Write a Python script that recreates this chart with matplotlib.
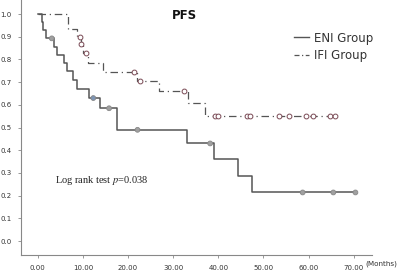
import matplotlib
matplotlib.use("Agg")
import matplotlib.pyplot as plt
from matplotlib.lines import Line2D

# ENI group (solid KM curve)
eni_t = [0, 0.9, 1.25, 1.8, 3.5, 4.35, 5.7, 6.4, 7.9, 8.6, 11.4, 13.7, 17.5, 33.0, 39.1, 44.3, 47.4]
eni_s = [1.0, 0.966, 0.93, 0.893, 0.856, 0.82, 0.785, 0.75, 0.71, 0.67, 0.63, 0.585, 0.49, 0.43, 0.36, 0.286, 0.214]
eni_end = 70.4
eni_cens = [3.1, 12.3, 15.8, 22.1, 38.2, 58.7, 65.5, 70.4]

# IFI group (dash-dot KM curve)
ifi_t = [0, 6.8, 8.8, 9.5, 10.0, 11.2, 14.5, 21.9, 26.9, 33.2, 37.1]
ifi_s = [1.0, 0.933, 0.90, 0.866, 0.83, 0.785, 0.745, 0.705, 0.66, 0.607, 0.552]
ifi_end = 65.8
ifi_cens = [9.4, 9.6, 10.7, 21.4, 22.7, 32.5, 39.3, 40.0, 46.3, 47.0, 53.5, 55.7, 59.4, 60.9, 64.8, 65.8]

xticks = [0, 10, 20, 30, 40, 50, 60, 70]
yticks = [0.0, 0.1, 0.2, 0.3, 0.4, 0.5, 0.6, 0.7, 0.8, 0.9, 1.0]


def surv_at(ts, ss, x):
    val = ss[0]
    for t, s in zip(ts, ss):
        if t <= x:
            val = s
    return val


plt.rcParams['mathtext.fontset'] = 'stix'
fig = plt.figure(figsize=(3.98, 2.74), dpi=100)
ax = fig.add_axes([0.053, 0.069, 0.882, 0.931])

ax.step(eni_t + [eni_end], eni_s + [eni_s[-1]], where='post', color='#555555', lw=1.1)
ax.step(ifi_t + [ifi_end], ifi_s + [ifi_s[-1]], where='post', color='#555555', lw=0.9,
        linestyle=(0, (6, 3, 1, 3)))

ec = [surv_at(eni_t, eni_s, c) for c in eni_cens]
cols = ['#a0a0a0' if c != 12.3 else '#7d95b5' for c in eni_cens]
ax.scatter(eni_cens, ec, s=12, facecolors=cols, edgecolors='#888888', linewidths=0.6, zorder=3)

ic = [surv_at(ifi_t, ifi_s, c) for c in ifi_cens]
ax.scatter(ifi_cens, ic, s=12, facecolors='white', edgecolors='#7a4a55', linewidths=0.7, zorder=3)

ax.set_xlim(-3.7, 74.1)
ax.set_ylim(-0.062, 1.062)
ax.set_xticks(xticks)
ax.set_xticklabels(['%.2f' % v for v in xticks])
ax.set_yticks(yticks)
ax.set_yticklabels(['%.1f' % v for v in yticks])
ax.tick_params(labelsize=5, length=2, width=0.6, color='#888888', labelcolor='#333333', pad=5)
for side in ['top', 'right']:
    ax.spines[side].set_visible(False)
for side in ['left', 'bottom']:
    ax.spines[side].set_color('#888888')
    ax.spines[side].set_linewidth(0.8)

ax.text(0.465, 0.94, 'PFS', transform=ax.transAxes, fontsize=8.5, fontweight='bold',
        ha='center', va='center', color='#111111')
ax.text(3.8, 0.268, 'Log rank test $p$=0.038', fontsize=7.5, family='Liberation Serif',
        color='#222222', va='center')
fig.text(0.918, 0.036, '(Months)', fontsize=5.2, color='#333333', va='center', ha='left')

handles = [Line2D([], [], color='#555555', lw=1.0),
           Line2D([], [], color='#555555', lw=0.9, linestyle=(0, (4, 2, 1, 2)))]
ax.legend(handles, ['ENI Group', 'IFI Group'], loc='upper left', bbox_to_anchor=(0.765, 0.895),
          frameon=False, fontsize=8.5, handlelength=1.2, handletextpad=0.5,
          labelspacing=0.35, borderaxespad=0, labelcolor='#333333')

fig.savefig('out.png', dpi=100)
